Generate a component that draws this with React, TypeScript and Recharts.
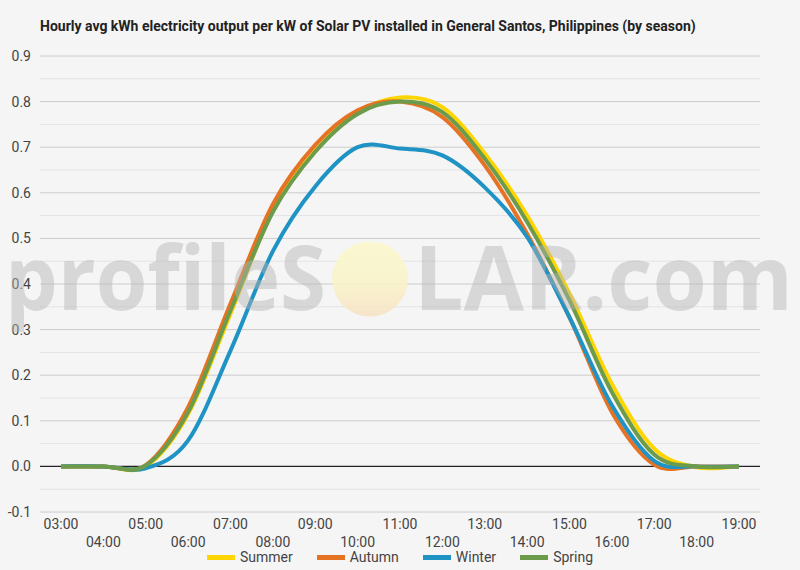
import React from 'react';
import { LineChart, Line, XAxis, YAxis, ReferenceLine } from 'recharts';

const hours = ['03:00', '04:00', '05:00', '06:00', '07:00', '08:00', '09:00', '10:00', '11:00', '12:00', '13:00', '14:00', '15:00', '16:00', '17:00', '18:00', '19:00'];

const summer = [0, 0, 0.0, 0.115, 0.335, 0.562, 0.692, 0.776, 0.809, 0.788, 0.686, 0.55, 0.379, 0.181, 0.039, -0.002, 0];
const autumn = [0, 0, 0.003, 0.13, 0.357, 0.575, 0.705, 0.781, 0.8, 0.766, 0.66, 0.51, 0.327, 0.119, 0.004, 0, 0];
const winter = [0, 0, -0.004, 0.057, 0.254, 0.472, 0.614, 0.7, 0.697, 0.682, 0.612, 0.503, 0.327, 0.134, 0.012, 0, 0];
const spring = [0, 0, 0.002, 0.119, 0.342, 0.558, 0.69, 0.773, 0.8, 0.777, 0.675, 0.536, 0.364, 0.163, 0.026, 0, 0];

const yTicks = [-0.1, -0.05, 0, 0.05, 0.1, 0.15, 0.2, 0.25, 0.3, 0.35, 0.4, 0.45, 0.5, 0.55, 0.6, 0.65, 0.7, 0.75, 0.8, 0.85, 0.9];
const yLabels = ['-0.1', '0.0', '0.1', '0.2', '0.3', '0.4', '0.5', '0.6', '0.7', '0.8', '0.9'];

const series = [
    { key: 'summer', name: 'Summer', color: '#FFD500', values: summer },
    { key: 'autumn', name: 'Autumn', color: '#E67324', values: autumn },
    { key: 'winter', name: 'Winter', color: '#1E93C4', values: winter },
    { key: 'spring', name: 'Spring', color: '#6B9B4B', values: spring },
];

const data = hours.map((hour, i) => {
    const row: any = { hour };
    series.forEach(s => { row[s.key] = s.values[i]; });
    return row;
});

const font = 'Roboto, "Noto Sans", sans-serif';

// catmull-rom style smoothing (like the spreadsheet "smoothed line")
const smoothCurve = (context: any) => {
    let pts: number[][] = [];
    return {
        areaStart() {},
        areaEnd() {},
        lineStart() { pts = []; },
        point(x: number, y: number) { pts.push([+x, +y]); },
        lineEnd() {
            if (!pts.length) return;
            context.moveTo(pts[0][0], pts[0][1]);
            for (let i = 0; i < pts.length - 1; i++) {
                const p0 = pts[Math.max(i - 1, 0)];
                const p1 = pts[i];
                const p2 = pts[i + 1];
                const p3 = pts[Math.min(i + 2, pts.length - 1)];
                context.bezierCurveTo(
                    p1[0] + (p2[0] - p0[0]) / 6, p1[1] + (p2[1] - p0[1]) / 6,
                    p2[0] - (p3[0] - p1[0]) / 6, p2[1] - (p3[1] - p1[1]) / 6,
                    p2[0], p2[1]
                );
            }
        },
    };
};

const isMajor = (v: number) => Math.abs(Math.round(v * 10) - v * 10) < 1e-6;

const YTick = ({ y, payload }: any) => {
    const v = payload.value;
    if (!isMajor(v)) return null;
    const label = yLabels.find(l => Math.abs(parseFloat(l) - v) < 1e-6);
    return (
        <text x={31} y={y} dy={5} textAnchor="end" fontSize={14} fill="#444" fontFamily={font}>{label}</text>
    );
};

const XTick = ({ x, y, payload, index }: any) => (
    <text x={x} y={y} dy={index % 2 === 0 ? 9 : 27} textAnchor="middle" fontSize={14} fill="#444" fontFamily={font}>{payload.value}</text>
);

export default function App() {
    return (
        <div style={{ position: 'absolute', left: 0, top: 0, width: 800, height: 570, background: '#f5f5f5', overflow: 'hidden', fontFamily: font }}>
            <div style={{ position: 'absolute', left: 40, top: 18, fontSize: 14, fontWeight: 700, color: '#222', whiteSpace: 'nowrap' }}>
                Hourly avg kWh electricity output per kW of Solar PV installed in General Santos, Philippines (by season)
            </div>
            <LineChart width={800} height={570} data={data} margin={{ top: 56, right: 40, left: 0, bottom: 0 }}>
                {yTicks.map(t => (
                    <ReferenceLine key={t} y={t} stroke={t === 0 ? '#222' : isMajor(t) ? '#cccccc' : '#e4e4e4'} strokeWidth={t === 0 ? 1.2 : 1} />
                ))}
                <XAxis dataKey="hour" interval={0} padding={{ left: 21, right: 21 }} height={58} axisLine={false} tickLine={false} tick={<XTick />} />
                <YAxis type="number" domain={[-0.1, 0.9]} ticks={yTicks} width={40} axisLine={false} tickLine={false} tick={<YTick />} allowDataOverflow />
                {series.map(s => (
                    <Line key={s.key} type={smoothCurve as any} dataKey={s.key} name={s.name} stroke={s.color} strokeWidth={4} dot={false} isAnimationActive={false} />
                ))}
            </LineChart>
            <svg width={800} height={570} style={{ position: 'absolute', left: 0, top: 0, pointerEvents: 'none' }}>
                <defs>
                    <linearGradient id="sun" x1="0" y1="0" x2="0" y2="1">
                        <stop offset="0%" stopColor="#fbf8cc" />
                        <stop offset="55%" stopColor="#f9f3c8" />
                        <stop offset="100%" stopColor="#f7e2c6" />
                    </linearGradient>
                </defs>
                <g opacity={0.45} fill="#b4b4b4" fontFamily='"Open Sans", sans-serif' fontWeight={700} fontSize={90}>
                    <text x={5} y={310} textLength={321} lengthAdjust="spacingAndGlyphs">profileS</text>
                    <text x={414} y={310} textLength={379} lengthAdjust="spacingAndGlyphs">LAR.com</text>
                </g>
                <ellipse cx={370} cy={279} rx={38} ry={37.5} fill="url(#sun)" opacity={0.9} />
            </svg>
            <div style={{ position: 'absolute', left: 0, width: 800, top: 549, display: 'flex', justifyContent: 'center', alignItems: 'center', gap: 24, fontSize: 14, color: '#444' }}>
                {series.map(s => (
                    <div key={s.key} style={{ display: 'flex', alignItems: 'center', gap: 5 }}>
                        <span style={{ display: 'inline-block', width: 28, height: 5, background: s.color }} />
                        <span>{s.name}</span>
                    </div>
                ))}
            </div>
        </div>
    );
}
